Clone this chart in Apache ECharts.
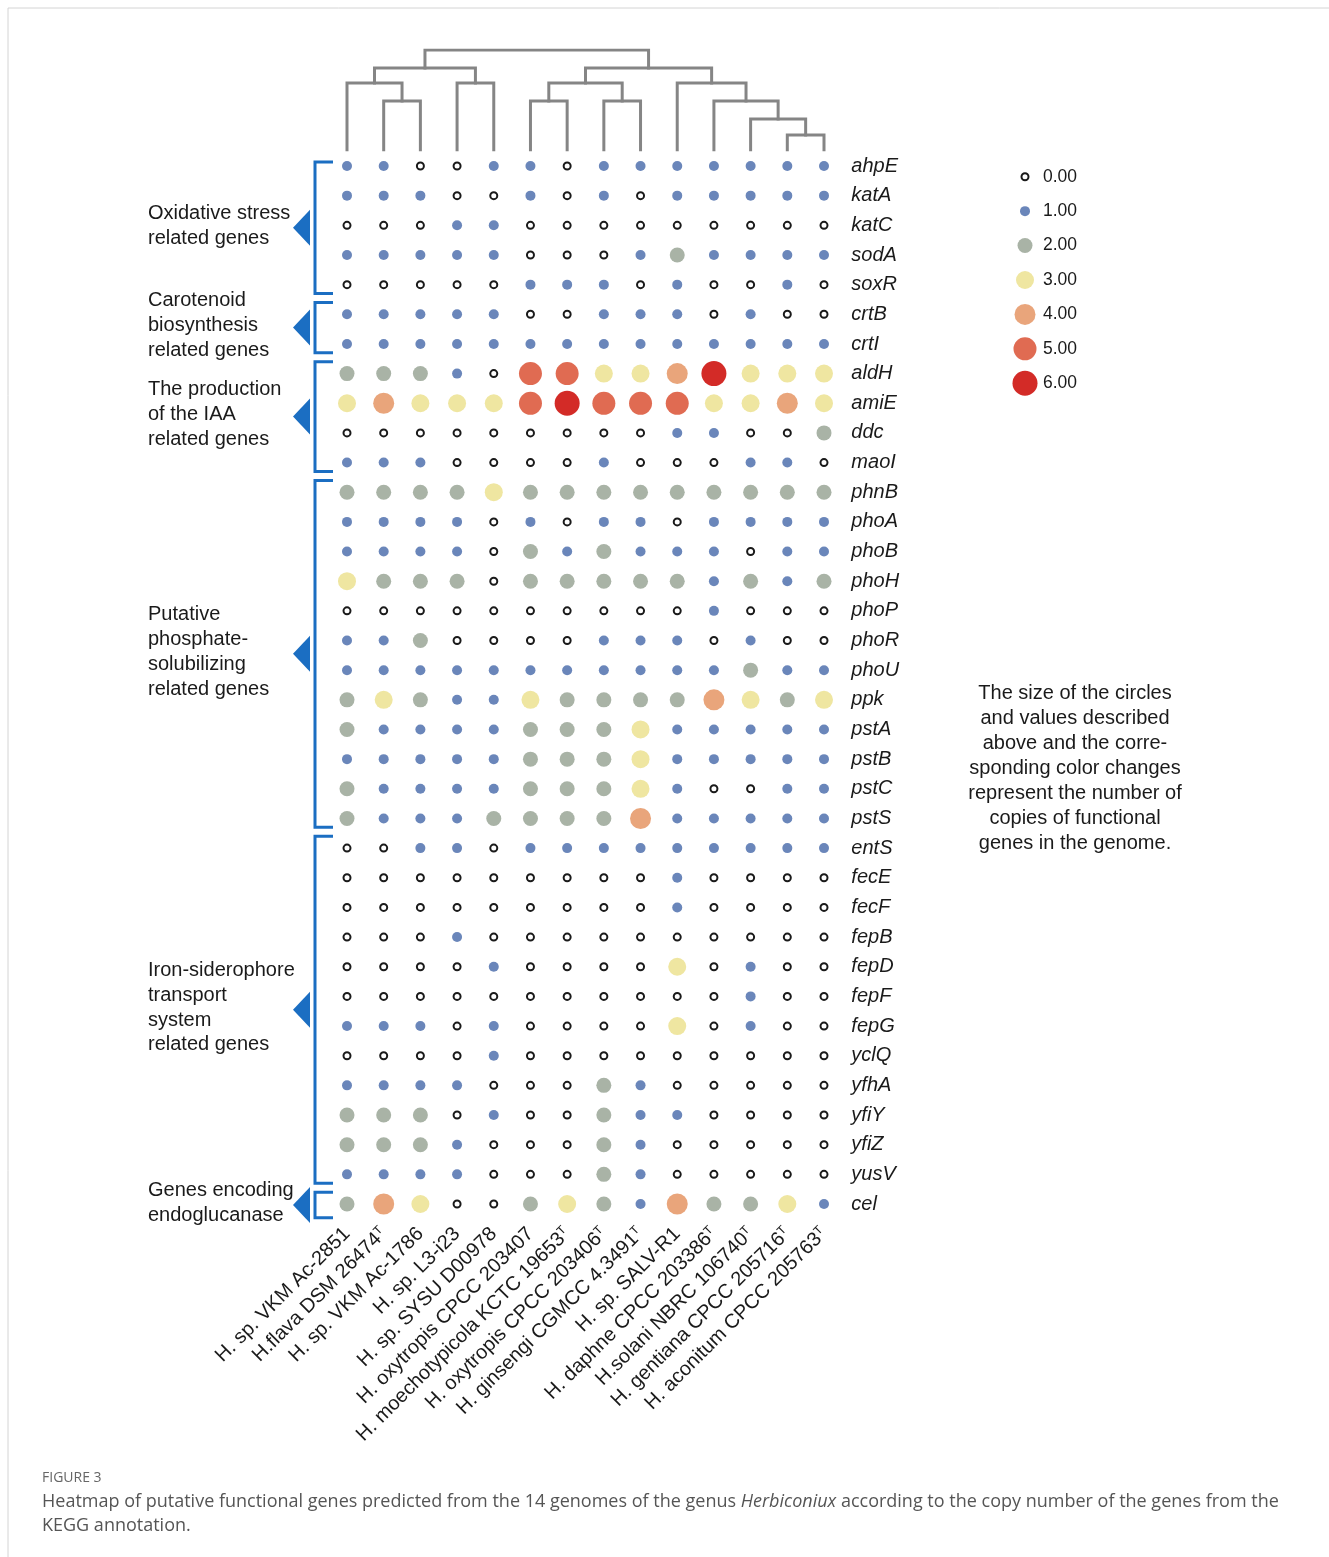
<!DOCTYPE html>
<html>
<head>
<meta charset="utf-8">
<script src="https://cdn.jsdelivr.net/npm/echarts@6/dist/echarts.min.js"></script>
<style>
  html, body { margin: 0; padding: 0; background: #fff; }
  #chart { width: 1329px; height: 1557px; }
</style>
</head>
<body>
<div id="chart"></div>
<script>
// Genomes (columns), in dendrogram leaf order
const genomes = [
  'H. sp. VKM Ac-2851', 'H.flava DSM 26474', 'H. sp. VKM Ac-1786', 'H. sp. L3-i23',
  'H. sp. SYSU D00978', 'H. oxytropis CPCC 203407', 'H. moechotypicola KCTC 19653',
  'H. oxytropis CPCC 203406', 'H. ginsengi CGMCC 4.3491', 'H. sp. SALV-R1',
  'H. daphne CPCC 203386', 'H.solani NBRC 106740', 'H. gentiana CPCC 205716',
  'H. aconitum CPCC 205763'
];
// Type strains get a superscript T
const typeStrain = [false, true, false, false, false, false, true, true, true, false, true, true, true, true];

// Gene copy numbers per functional group (one row per gene, one value per genome)
const oxidativeGenes = ['ahpE', 'katA', 'katC', 'sodA', 'soxR'];
const oxidativeCopies = [
  [1, 1, 0, 0, 1, 1, 0, 1, 1, 1, 1, 1, 1, 1],
  [1, 1, 1, 0, 0, 1, 0, 1, 0, 1, 1, 1, 1, 1],
  [0, 0, 0, 1, 1, 0, 0, 0, 0, 0, 0, 0, 0, 0],
  [1, 1, 1, 1, 1, 0, 0, 0, 1, 2, 1, 1, 1, 1],
  [0, 0, 0, 0, 0, 1, 1, 1, 0, 1, 0, 0, 1, 0]
];
const carotenoidGenes = ['crtB', 'crtI'];
const carotenoidCopies = [
  [1, 1, 1, 1, 1, 0, 0, 1, 1, 1, 0, 1, 0, 0],
  [1, 1, 1, 1, 1, 1, 1, 1, 1, 1, 1, 1, 1, 1]
];
const iaaGenes = ['aldH', 'amiE', 'ddc', 'maoI'];
const iaaCopies = [
  [2, 2, 2, 1, 0, 5, 5, 3, 3, 4, 6, 3, 3, 3],
  [3, 4, 3, 3, 3, 5, 6, 5, 5, 5, 3, 3, 4, 3],
  [0, 0, 0, 0, 0, 0, 0, 0, 0, 1, 1, 0, 0, 2],
  [1, 1, 1, 0, 0, 0, 0, 1, 0, 0, 0, 1, 1, 0]
];
const phosphateGenes = ['phnB', 'phoA', 'phoB', 'phoH', 'phoP', 'phoR', 'phoU', 'ppk', 'pstA', 'pstB', 'pstC', 'pstS'];
const phosphateCopies = [
  [2, 2, 2, 2, 3, 2, 2, 2, 2, 2, 2, 2, 2, 2],
  [1, 1, 1, 1, 0, 1, 0, 1, 1, 0, 1, 1, 1, 1],
  [1, 1, 1, 1, 0, 2, 1, 2, 1, 1, 1, 0, 1, 1],
  [3, 2, 2, 2, 0, 2, 2, 2, 2, 2, 1, 2, 1, 2],
  [0, 0, 0, 0, 0, 0, 0, 0, 0, 0, 1, 0, 0, 0],
  [1, 1, 2, 0, 0, 0, 0, 1, 1, 1, 0, 1, 0, 0],
  [1, 1, 1, 1, 1, 1, 1, 1, 1, 1, 1, 2, 1, 1],
  [2, 3, 2, 1, 1, 3, 2, 2, 2, 2, 4, 3, 2, 3],
  [2, 1, 1, 1, 1, 2, 2, 2, 3, 1, 1, 1, 1, 1],
  [1, 1, 1, 1, 1, 2, 2, 2, 3, 1, 1, 1, 1, 1],
  [2, 1, 1, 1, 1, 2, 2, 2, 3, 1, 0, 0, 1, 1],
  [2, 1, 1, 1, 2, 2, 2, 2, 4, 1, 1, 1, 1, 1]
];
const ironGenes = ['entS', 'fecE', 'fecF', 'fepB', 'fepD', 'fepF', 'fepG', 'yclQ', 'yfhA', 'yfiY', 'yfiZ', 'yusV'];
const ironCopies = [
  [0, 0, 1, 1, 0, 1, 1, 1, 1, 1, 1, 1, 1, 1],
  [0, 0, 0, 0, 0, 0, 0, 0, 0, 1, 0, 0, 0, 0],
  [0, 0, 0, 0, 0, 0, 0, 0, 0, 1, 0, 0, 0, 0],
  [0, 0, 0, 1, 0, 0, 0, 0, 0, 0, 0, 0, 0, 0],
  [0, 0, 0, 0, 1, 0, 0, 0, 0, 3, 0, 1, 0, 0],
  [0, 0, 0, 0, 0, 0, 0, 0, 0, 0, 0, 1, 0, 0],
  [1, 1, 1, 0, 1, 0, 0, 0, 0, 3, 0, 1, 0, 0],
  [0, 0, 0, 0, 1, 0, 0, 0, 0, 0, 0, 0, 0, 0],
  [1, 1, 1, 1, 0, 0, 0, 2, 1, 0, 0, 0, 0, 0],
  [2, 2, 2, 0, 1, 0, 0, 2, 1, 1, 0, 0, 0, 0],
  [2, 2, 2, 1, 0, 0, 0, 2, 1, 0, 0, 0, 0, 0],
  [1, 1, 1, 1, 0, 0, 0, 2, 1, 0, 0, 0, 0, 0]
];
const endoglucanaseGenes = ['cel'];
const endoglucanaseCopies = [
  [2, 4, 3, 0, 0, 2, 3, 2, 1, 4, 2, 2, 3, 1]
];

// Group captions (one entry per text line)
const oxidativeLabel = ['Oxidative stress', 'related genes'];
const carotenoidLabel = ['Carotenoid', 'biosynthesis', 'related genes'];
const iaaLabel = ['The production', 'of the IAA', 'related genes'];
const phosphateLabel = ['Putative', 'phosphate-', 'solubilizing', 'related genes'];
const ironLabel = ['Iron-siderophore', 'transport', 'system', 'related genes'];
const endoglucanaseLabel = ['Genes encoding', 'endoglucanase'];

// Dendrogram merges over the genome columns: [childA, childB, height];
// leaves are 0..13, merged clusters are numbered from 14 upward.
const dendroMerges = [
  [1, 2, 4.9], [0, 14, 6.7], [3, 4, 6.7], [15, 16, 8.2],
  [5, 6, 4.9], [7, 8, 4.9], [18, 19, 6.7],
  [12, 13, 1.5], [11, 21, 3.1], [10, 22, 4.9], [9, 23, 6.7],
  [20, 24, 8.2], [17, 25, 10]
];

// Copy-number scale shown in the key
const legendValues = [0, 1, 2, 3, 4, 5, 6];

const noteLines = [
  'The size of the circles', 'and values described', 'above and the corre-',
  'sponding color changes', 'represent the number of', 'copies of functional',
  'genes in the genome.'
];

// ---------- styling ----------
const FONT = '"Liberation Sans", Arial, sans-serif';
const CAPTION_FONT = '"Open Sans", sans-serif';
const BRACKET_BLUE = '#1b6ec2';
const sizeByCopy = [7, 10, 15, 18, 21, 23, 25];
const colorByCopy = ['#ffffff', '#6a86ba', '#a9b3a6', '#efe6a1', '#e9a57b', '#e06b52', '#d32b27'];

function dotItem(x, y, v) {
  return {
    value: [x, y, v],
    symbolSize: sizeByCopy[v],
    itemStyle: v === 0
      ? { color: '#ffffff', borderColor: '#1a1a1a', borderWidth: 2, opacity: 1 }
      : { color: colorByCopy[v], borderWidth: 0, opacity: 1 }
  };
}

// Assemble rows and group bands
const groupDefs = [
  [oxidativeGenes, oxidativeCopies, oxidativeLabel],
  [carotenoidGenes, carotenoidCopies, carotenoidLabel],
  [iaaGenes, iaaCopies, iaaLabel],
  [phosphateGenes, phosphateCopies, phosphateLabel],
  [ironGenes, ironCopies, ironLabel],
  [endoglucanaseGenes, endoglucanaseCopies, endoglucanaseLabel]
];
const genes = [];
const dots = [];
const bands = [];
groupDefs.forEach(([names, rows, label]) => {
  const first = genes.length;
  names.forEach((g, i) => {
    const yi = genes.length;
    genes.push(g);
    rows[i].forEach((v, xi) => dots.push(dotItem(xi, yi, v)));
  });
  bands.push({ first, last: genes.length - 1, label });
});

// Dendrogram paths in (column index, height) units
const nodeX = genomes.map((_, i) => i);
const nodeH = genomes.map(() => 0);
const dendroPaths = [];
dendroMerges.forEach(([a, b, h]) => {
  dendroPaths.push({ coords: [[nodeX[a], nodeH[a]], [nodeX[a], h], [nodeX[b], h], [nodeX[b], nodeH[b]]] });
  nodeX.push((nodeX[a] + nodeX[b]) / 2);
  nodeH.push(h);
});

const legendLabels = legendValues.map(v => v.toFixed(2));
const legendDots = legendValues.map((v, i) => dotItem(0, i, v));

// ---------- layout ----------
const colStep = 477 / 13;
const rowStep = 1038 / 35;
const gridLeft = 347 - colStep / 2;
const gridWidth = colStep * genomes.length;
const gridTop = 166 - rowStep / 2;
const gridHeight = rowStep * genes.length;

const chart = echarts.init(document.getElementById('chart'), null, { renderer: 'canvas' });

const option = {
  backgroundColor: '#ffffff',
  animation: false,
  textStyle: { fontFamily: FONT },
  grid: [
    { left: gridLeft, top: gridTop, width: gridWidth, height: gridHeight },
    { left: gridLeft, top: 50, width: gridWidth, height: 100 },
    { left: 1015, top: 159.5, width: 20, height: 241 }
  ],
  xAxis: [
    {
      gridIndex: 0, type: 'category', data: genomes, position: 'bottom',
      axisLine: { show: false }, axisTick: { show: false }, splitLine: { show: false },
      axisLabel: {
        rotate: 45, interval: 0, margin: 12, color: '#1a1a1a', fontSize: 20, fontFamily: FONT,
        formatter: (name, idx) => typeStrain[idx] ? name + '{sup|T}' : name,
        rich: {
          sup: { fontSize: 12, fontFamily: FONT, color: '#1a1a1a', verticalAlign: 'top', lineHeight: 12 }
        }
      }
    },
    { gridIndex: 1, type: 'value', min: -0.5, max: genomes.length - 0.5, show: false },
    { gridIndex: 2, type: 'value', min: -1, max: 1, show: false }
  ],
  yAxis: [
    {
      gridIndex: 0, type: 'category', data: genes, inverse: true, position: 'right',
      axisLine: { show: false }, axisTick: { show: false }, splitLine: { show: false },
      axisLabel: { interval: 0, margin: 9, color: '#1a1a1a', fontSize: 20, fontStyle: 'italic', fontFamily: FONT }
    },
    { gridIndex: 1, type: 'value', min: 0, max: 10, show: false },
    {
      gridIndex: 2, type: 'category', data: legendLabels, inverse: true, position: 'right',
      axisLine: { show: false }, axisTick: { show: false }, splitLine: { show: false },
      axisLabel: { interval: 0, margin: 8, color: '#1a1a1a', fontSize: 17.5, fontFamily: FONT }
    }
  ],
  series: [
    {
      name: 'copies', type: 'scatter', xAxisIndex: 0, yAxisIndex: 0,
      symbol: 'circle', data: dots, silent: true, z: 3
    },
    {
      name: 'dendrogram', type: 'lines', coordinateSystem: 'cartesian2d',
      xAxisIndex: 1, yAxisIndex: 1, polyline: true, silent: true,
      lineStyle: { color: '#858585', width: 3, opacity: 1, cap: 'square', join: 'miter' },
      data: dendroPaths
    },
    {
      name: 'key', type: 'scatter', xAxisIndex: 2, yAxisIndex: 2,
      symbol: 'circle', data: legendDots, silent: true
    },
    {
      name: 'groups', type: 'custom', xAxisIndex: 0, yAxisIndex: 0, clip: false, silent: true,
      data: bands.map(b => [0, b.first, b.last]),
      encode: { x: 0, y: 1 },
      renderItem: (params, api) => {
        const band = bands[params.dataIndex];
        const step = api.size([0, 1])[1];
        const p0 = api.coord([0, band.first]);
        const p1 = api.coord([0, band.last]);
        const x0 = p0[0];
        const top = band.first === 0 ? p0[1] - 4 : p0[1] - step / 2 + 3;
        const bottom = band.last === genes.length - 1 ? p1[1] + step / 2 - 1 : p1[1] + step / 2 - 6;
        const mid = (top + bottom) / 2;
        const bx = x0 - 32, tickEnd = x0 - 14;
        const children = [
          {
            type: 'polyline',
            shape: { points: [[tickEnd, top], [bx, top], [bx, bottom], [tickEnd, bottom]] },
            style: { stroke: BRACKET_BLUE, lineWidth: 3, fill: null }
          },
          {
            type: 'polygon',
            shape: { points: [[x0 - 54, mid], [x0 - 37, mid - 18], [x0 - 37, mid + 18]] },
            style: { fill: BRACKET_BLUE }
          }
        ];
        const gap = 24.8;
        const n = band.label.length;
        band.label.forEach((line, i) => {
          children.push({
            type: 'text',
            style: {
              text: line, x: x0 - 199, y: mid - 2 - (n - 1) * gap / 2 + i * gap,
              font: '20px ' + FONT, fill: '#1a1a1a', textAlign: 'left', textVerticalAlign: 'middle'
            }
          });
        });
        return { type: 'group', children };
      }
    }
  ],
  graphic: [
    {
      type: 'rect', silent: true, z: -1,
      shape: { x: 8, y: 8, width: 1400, height: 1600 },
      style: { fill: null, stroke: '#d4d4d4', lineWidth: 1 }
    },
    {
      type: 'group', silent: true,
      children: noteLines.map((line, i) => ({
        type: 'text',
        style: {
          text: line, x: 1075, y: 693 + i * 25, font: '20px ' + FONT, fill: '#1a1a1a',
          textAlign: 'center', textVerticalAlign: 'middle'
        }
      }))
    },
    {
      type: 'text', silent: true,
      style: {
        text: 'FIGURE 3', x: 42, y: 1478, font: '14px ' + CAPTION_FONT,
        fill: '#666666', textVerticalAlign: 'middle'
      }
    },
    {
      type: 'text', silent: true,
      style: {
        text: 'Heatmap of putative functional genes predicted from the 14 genomes of the genus {i|Herbiconiux} according to the copy number of the genes from the',
        x: 42, y: 1502, font: '18px ' + CAPTION_FONT, fill: '#555555', textVerticalAlign: 'middle',
        rich: { i: { fontStyle: 'italic', font: 'italic 18px ' + CAPTION_FONT, fill: '#555555' } }
      }
    },
    {
      type: 'text', silent: true,
      style: {
        text: 'KEGG annotation.', x: 42, y: 1526, font: '18px ' + CAPTION_FONT,
        fill: '#555555', textVerticalAlign: 'middle'
      }
    }
  ]
};

chart.setOption(option);
</script>
</body>
</html>
